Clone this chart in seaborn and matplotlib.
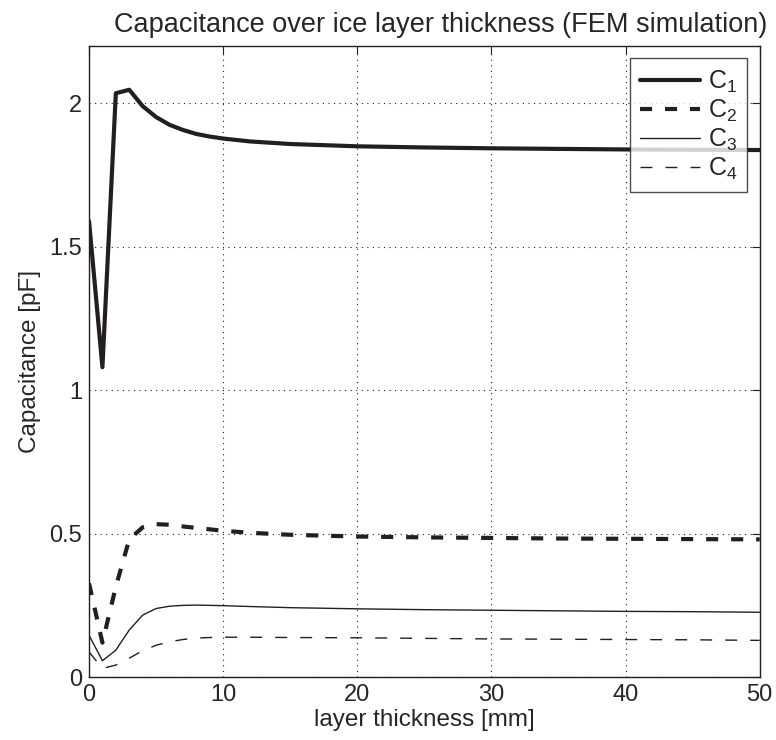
import matplotlib
matplotlib.use("Agg")
import matplotlib.pyplot as plt
import pandas as pd
import seaborn as sns

# layer thickness samples [mm]
thickness = [0, 1, 2, 3, 4, 5, 6, 7, 8, 9, 10, 12, 15, 20, 25, 30, 35, 40, 45, 50]

# capacitances [pF]
c1 = [1.59, 1.08, 2.035, 2.047, 1.99, 1.952, 1.925, 1.907, 1.893, 1.884, 1.877,
      1.867, 1.858, 1.850, 1.846, 1.843, 1.841, 1.839, 1.838, 1.837]
c2 = [0.327, 0.12, 0.315, 0.48, 0.522, 0.533, 0.531, 0.525, 0.52, 0.515, 0.51,
      0.503, 0.496, 0.49, 0.487, 0.485, 0.483, 0.482, 0.481, 0.48]
c3 = [0.146, 0.057, 0.094, 0.164, 0.216, 0.239, 0.247, 0.25, 0.251, 0.25, 0.249,
      0.246, 0.242, 0.238, 0.235, 0.233, 0.231, 0.229, 0.228, 0.226]
c4 = [0.088, 0.03, 0.042, 0.066, 0.092, 0.111, 0.123, 0.131, 0.136, 0.138, 0.139,
      0.139, 0.138, 0.137, 0.135, 0.133, 0.132, 0.131, 0.13, 0.128]

labels = [r"C$_\mathregular{1}$", r"C$_\mathregular{2}$", r"C$_\mathregular{3}$", r"C$_\mathregular{4}$"]
series = [c1, c2, c3, c4]
styles = [
    dict(lw=3.0, ls="-"),
    dict(lw=3.0, dashes=(2.9, 3.1)),
    dict(lw=1.0, ls="-"),
    dict(lw=1.0, dashes=(8.6, 9.4)),
]

sns.set_style("white")
plt.rcParams["font.family"] = ["Liberation Sans", "DejaVu Sans"]
plt.rcParams["mathtext.fontset"] = "custom"
plt.rcParams["mathtext.rm"] = "Liberation Sans"

fig = plt.figure(figsize=(7.76, 7.40), dpi=100)
ax = fig.add_axes([0.1147, 0.085, 0.8643, 0.853])

for lab, vals, st in zip(labels, series, styles):
    df = pd.DataFrame({"x": thickness, "y": vals})
    sns.lineplot(data=df, x="x", y="y", ax=ax, color="#231f20", label=lab, **st)

ax.set_xlim(0, 50)
ax.set_ylim(0, 2.2)
ax.set_xticks([0, 10, 20, 30, 40, 50])
ax.set_yticks([0, 0.5, 1, 1.5, 2])
ax.set_yticklabels(["0", "0.5", "1", "1.5", "2"])
ax.grid(True, ls=(0, (1, 4)), color="#231f20", lw=0.8)
ax.tick_params(direction="in", top=True, right=True, length=6, labelsize=17,
               color="#231f20", pad=5)
for sp in ax.spines.values():
    sp.set_color("#231f20")
    sp.set_linewidth(1.0)

ax.set_xlabel("layer thickness [mm]", fontsize=17.5, labelpad=2)
ax.set_ylabel("Capacitance [pF]", fontsize=17.5, labelpad=6)
ax.set_title("Capacitance over ice layer thickness (FEM simulation)", fontsize=19.5,
             pad=10, x=0.525)

leg = ax.legend(loc="upper right", fontsize=18, handlelength=2.4, frameon=True,
                fancybox=False, edgecolor="#231f20", borderaxespad=0.5,
                labelspacing=0.12, handletextpad=0.3, borderpad=0.4)
leg.get_frame().set_linewidth(1.0)

fig.savefig("out.png", dpi=100, facecolor="white")
